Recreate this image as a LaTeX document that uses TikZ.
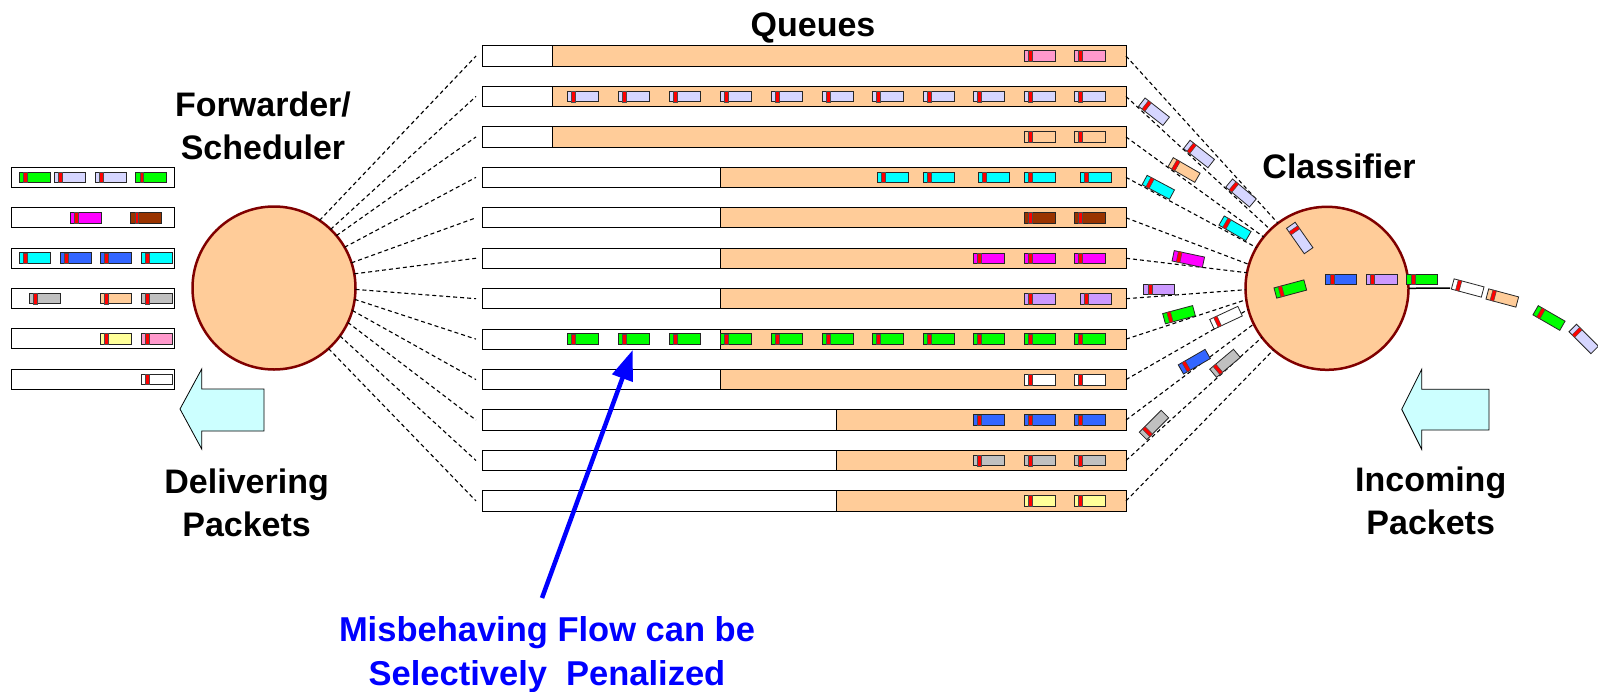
\documentclass[tikz,border=0pt]{standalone}
\usepackage{fontspec}
\setmainfont{Liberation Sans}
\usetikzlibrary{arrows.meta}
\definecolor{qorange}{RGB}{255,204,153}
\definecolor{maroonc}{RGB}{128,0,0}
\definecolor{pgreen}{RGB}{0,255,0}
\definecolor{plav}{RGB}{214,214,255}
\definecolor{ppink}{RGB}{255,153,204}
\definecolor{pcyan}{RGB}{0,255,255}
\definecolor{pbrown}{RGB}{153,51,0}
\definecolor{pmag}{RGB}{255,0,255}
\definecolor{ppurple}{RGB}{204,153,255}
\definecolor{pblue}{RGB}{51,102,255}
\definecolor{pgray}{RGB}{192,192,192}
\definecolor{pyellow}{RGB}{255,255,153}
\definecolor{arrowfill}{RGB}{204,255,255}
\definecolor{textblue}{RGB}{0,0,255}
\begin{document}
\begin{tikzpicture}[x=1pt,y=-1pt,
  queue/.style={draw=black, fill=white, line width=1pt, minimum width=644pt, minimum height=20.3pt, inner sep=0pt, outer sep=0pt},
  dbox/.style={draw=black, fill=white, line width=1pt, minimum width=163pt, minimum height=20pt, inner sep=0pt, outer sep=0pt},
  dl/.style={dash pattern=on 4pt off 3pt, line width=1.1pt, black},
  bigcirc/.style={circle, draw=maroonc, fill=qorange, line width=2.5pt, minimum size=163pt, inner sep=0pt, outer sep=0pt},
  lbl/.style={font=\bfseries\fontsize{34}{43}\selectfont, inner sep=0pt},
  blockarrow/.style={draw=black, fill=arrowfill, line width=0.8pt, line join=miter},
  pics/pkt/.style={code={
    \draw[fill=#1, line width=0.8pt, draw=black!85] (-15.5,-5.3) rectangle (15.5,5.3);
    \draw[fill=red, line width=0.5pt, draw=black!70] (-11.2,-5.3) rectangle (-7.5,5.3);
  }}
]
\path[use as bounding box, fill=white] (0,0) rectangle (1598,691);

% circles
\node[bigcirc] (sched) at (274,288) {};
\node[bigcirc] (clas) at (1327,288.3) {};

% queues
\foreach \i/\xo in {1/552,2/552,3/552,4/720,5/720,6/720,7/720,8/720,9/720,10/836,11/836,12/836}{
  \pgfmathsetmacro\ym{56+40.45*(\i-1)}
  \node[queue] (q\i) at (804,\ym) {};
  \draw[fill=qorange, line width=1pt] (\xo,\ym-10.15) rectangle (1126,\ym+10.15);
}

% dashed lines to scheduler
\foreach \i/\a in {1/56,2/46,3/40,4/30,5/18,6/10,7/-1,8/-8,9/-16,10/-25.5,11/-36.4,12/-48}{
  \draw[dl] (sched.\a) -- ([xshift=-6pt]q\i.west);
}
% dashed lines to classifier
\foreach \i/\a in {1/127,2/134,3/141,4/150,5/163,6/169,7/181,8/188,9/195,10/206,11/217,12/229}{
  \draw[dl] (q\i.east) -- (clas.\a);
}

% packets in queues
\foreach \i/\c/\xs in {1/ppink/{1024,1074},
  2/plav/{567,618,669,720,771,822,872,923,973,1024,1074},
  3/qorange/{1024,1074},
  4/pcyan/{877,923,978,1024,1080},
  5/pbrown/{1024,1074},
  6/pmag/{973,1024,1074},
  7/ppurple/{1024,1080},
  8/pgreen/{567,618,669,720,771,822,872,923,973,1024,1074},
  9/white/{1024,1074},
  10/pblue/{973,1024,1074},
  11/pgray/{973,1024,1074},
  12/pyellow/{1024,1074}}{
  \pgfmathsetmacro\ym{56+40.45*(\i-1)}
  \foreach \x in \xs {
    \pic at (\x+15.5,\ym) {pkt=\c};
  }
}

% delivered boxes
\foreach \j in {1,...,6}{
  \pgfmathsetmacro\ym{177.3+40.4*(\j-1)}
  \node[dbox] (d\j) at (92.5,\ym) {};
}
\foreach \j/\x/\c in {1/19.3/pgreen,1/54.3/plav,1/95.3/plav,1/135.7/pgreen,
  2/70/pmag,2/130.7/pbrown,
  3/19.3/pcyan,3/60/pblue,3/100/pblue,3/141/pcyan,
  4/29.3/pgray,4/100/qorange,4/141/pgray,
  5/100/pyellow,5/141/ppink,
  6/141/white}{
  \pgfmathsetmacro\ym{177.3+40.4*(\j-1)}
  \pic at (\x+15.5,\ym) {pkt=\c};
}

% packets in transit to classifier
\pic[rotate=-38] at (1154,111.7) {pkt=plav};
\pic[rotate=-38] at (1199,154) {pkt=plav};
\pic[rotate=-40] at (1241,193) {pkt=plav};
\pic[rotate=-30] at (1184,170) {pkt=qorange};
\pic[rotate=-28] at (1158.3,187.3) {pkt=pcyan};
\pic[rotate=-30] at (1235,228.3) {pkt=pcyan};
\pic[rotate=-12] at (1188.3,259) {pkt=pmag};
\pic at (1159.3,289.3) {pkt=ppurple};
\pic[rotate=15] at (1179,314.7) {pkt=pgreen};
\pic[rotate=25] at (1226,317.7) {pkt=white};
\pic[rotate=30] at (1194.3,361.7) {pkt=pblue};
\pic[rotate=40] at (1225,363.3) {pkt=pgray};
\pic[rotate=45] at (1154,425) {pkt=pgray};
% inside classifier
\pic[rotate=-55] at (1299.7,238) {pkt=plav};
\pic[rotate=15] at (1290.3,289) {pkt=pgreen};
\pic at (1341.3,279.3) {pkt=pblue};
\pic at (1381.7,279.3) {pkt=ppurple};
% incoming
\coordinate (inA) at (1450,288);
\draw[line width=1.5pt] (clas.-0.5) -- (inA);
\pic at (1422.3,279.3) {pkt=pgreen};
\pic[rotate=-15] at (1467.7,288) {pkt=white};
\pic[rotate=-15] at (1502.3,298) {pkt=qorange};
\pic[rotate=-30] at (1549,318) {pkt=pgreen};
\pic[rotate=-45] at (1583.7,339) {pkt=plav};

% block arrows
\draw[blockarrow] (180,409) -- (201.7,369) -- (201.7,389) -- (264,389) -- (264,431) -- (201.7,431) -- (201.7,449) -- cycle;
\draw[blockarrow] (1401.7,409.3) -- (1421.7,369.3) -- (1421.7,389.3) -- (1489,389.3) -- (1489,430) -- (1421.7,430) -- (1421.7,449.3) -- cycle;

% labels
\node[lbl] (tq) at (813,27.5) {Queues};
\node[lbl, align=center] (tfs) at (263,126) {Forwarder/\\Scheduler};
\node[lbl] (tc) at (1339,166) {Classifier};
\node[lbl, align=center] (td) at (246.6,503) {Delivering\\Packets};
\node[lbl, align=center] (ti) at (1430.7,500.4) {Incoming\\Packets};
\node[lbl, text=textblue, align=center, font=\bfseries\fontsize{34.5}{43.5}\selectfont] (tm) at (547,654.5) {Misbehaving Flow can be\\Selectively\ \ Penalized};

% misbehaving arrow
\coordinate (mstart) at (542,598);
\coordinate (mtip) at (632.7,350);
\draw[line width=4.5pt, textblue, -{Triangle[length=30pt,width=21pt]}] (mstart) -- (mtip);
\end{tikzpicture}
\end{document}
